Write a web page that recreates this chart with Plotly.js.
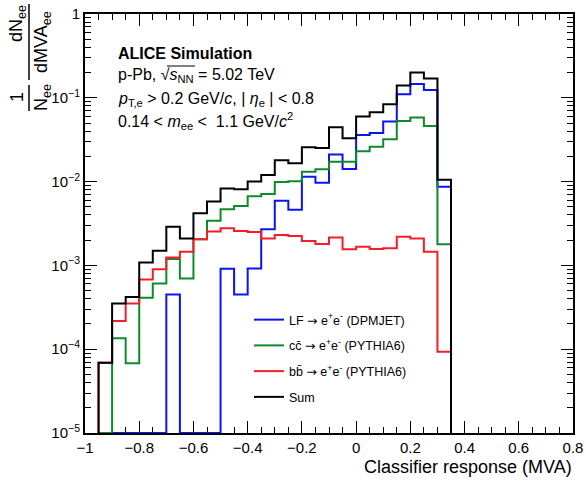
<!DOCTYPE html>
<html><head><meta charset="utf-8">
<script src="https://cdn.plot.ly/plotly-3.0.1.min.js"></script>
<style>html,body{margin:0;padding:0;background:#fff}#chart{width:586px;height:482px}</style>
</head><body><div id="chart"></div>
<script>
// Histogram bin lower edges (bin width 0.05)
const binLow = [-0.95,-0.9,-0.85,-0.8,-0.75,-0.7,-0.65,-0.6,-0.55,-0.5,-0.45,-0.4,-0.35,-0.3,-0.25,-0.2,-0.15,-0.1,-0.05,0,0.05,0.1,0.15,0.2,0.25,0.3];
const binWidth = 0.05;
// 1/N dN/dMVA per bin
const lfVals = [0,0,0,0,0,4.5e-4,0,0,0,9.1e-4,4.5e-4,9.2e-4,2.7e-3,5.9e-3,4.6e-3,0.0114,9.7e-3,0.0211,0.0141,0.036,0.038,0.052,0.110,0.146,0.124,0.0087];
const ccVals = [0,1.35e-4,6.8e-5,4.1e-4,6.1e-4,1.19e-3,7.0e-4,2.05e-3,3.4e-3,4.67e-3,5.1e-3,6.7e-3,7.1e-3,9.9e-3,0.0101,0.0131,0.014,0.0173,0.0173,0.0230,0.026,0.032,0.053,0.058,0.046,1.79e-3];
const bbVals = [6.9e-5,2.17e-4,3.5e-4,6.8e-4,9.0e-4,1.24e-3,1.46e-3,2.05e-3,2.53e-3,2.77e-3,2.58e-3,2.5e-3,2.1e-3,2.3e-3,2.25e-3,1.95e-3,1.8e-3,2.15e-3,1.56e-3,1.67e-3,1.57e-3,1.60e-3,2.2e-3,2.1e-3,1.46e-3,9.3e-5];
const sumVals = [6.9e-5,3.5e-4,4.2e-4,1.08e-3,1.5e-3,2.9e-3,2.1e-3,4.2e-3,5.8e-3,8.3e-3,8.1e-3,0.010,0.012,0.018,0.0165,0.0257,0.0252,0.0445,0.0328,0.060,0.067,0.084,0.14,0.20,0.17,0.0105];
const ARROW = '<span style="font-family:DejaVu Sans">\u2192</span>';
const seriesNames = ['LF '+ARROW+' e<sup>+</sup>e<sup>-</sup> (DPMJET)','cc\u0304 '+ARROW+' e<sup>+</sup>e<sup>-</sup> (PYTHIA6)','bb\u0304 '+ARROW+' e<sup>+</sup>e<sup>-</sup> (PYTHIA6)','Sum'];
const xTickVals = [-1,-0.8,-0.6,-0.4,-0.2,0,0.2,0.4,0.6,0.8];
const xTickText = ['\u22121','\u22120.8','\u22120.6','\u22120.4','\u22120.2','0','0.2','0.4','0.6','0.8'];
const yTickVals = [1e-5,1e-4,1e-3,1e-2,1e-1,1];
const yTickText = ['10<sup>\u22125</sup>','10<sup>\u22124</sup>','10<sup>\u22123</sup>','10<sup>\u22122</sup>','10<sup>\u22121</sup>','1'];

const FLOOR = 1e-5;
const FONT = 'Liberation Sans, Arial, Helvetica, sans-serif';
const colors = ['#0a14f5','#0f8a2a','#f51e28','#000000'];

function histTrace(vals, name, color, grp){
  const x=[binLow[0]], y=[FLOOR];
  for(let i=0;i<vals.length;i++){ x.push(binLow[i]); y.push(vals[i]>0?vals[i]:FLOOR); }
  x.push(binLow[binLow.length-1]+binWidth); y.push(FLOOR);
  return {type:'scatter', mode:'lines', x:x, y:y, name:name, legendgroup:grp,
    line:{shape:'hv', color:color, width:2}, hoverinfo:'skip'};
}
const data = [
  histTrace(lfVals, seriesNames[0], colors[0], 'a'),
  histTrace(ccVals, seriesNames[1], colors[1], 'b'),
  histTrace(bbVals, seriesNames[2], colors[2], 'c'),
  histTrace(sumVals, seriesNames[3], colors[3], 'd')
];

const L=85, R=13, T=14, B=49, W=586, H=482;
const PW=W-L-R, PH=H-T-B;
const px=(v)=>(v-L)/PW, py=(v)=>(H-B-v)/PH;

const yMinor=[]; for(let k=-5;k<0;k++){ for(let m=2;m<10;m++) yMinor.push(m*Math.pow(10,k)); }

function ann(text,x,y,opt){ return Object.assign({text:text, x:px(x), y:py(y), xref:'paper', yref:'paper', xanchor:'left', yanchor:'middle', showarrow:false, font:{family:FONT,size:16,color:'#000'}}, opt||{}); }

const annotations = [
  ann('<b>ALICE Simulation</b>',116,53),
  ann('p-Pb, \u221A<i>s</i><sub>NN</sub> = 5.02 TeV',116,76),
  ann('<i>p</i><sub>T,e</sub> > 0.2 GeV/<i>c</i>, | <i>\u03b7</i><sub>e</sub> | < 0.8',116,99),
  ann('0.14 < <i>m</i><sub>ee</sub> <  1.1 GeV/<i>c</i><sup>2</sup>',116,121),
  ann('Classifier response (MVA)',574,467,{xanchor:'right',font:{family:FONT,size:18,color:'#000'}}),
  ann('dN<sub>ee</sub>',17,24,{xanchor:'center',textangle:-90,font:{family:FONT,size:18,color:'#000'}}),
  ann('dMVA<sub>ee</sub>',42,42,{xanchor:'center',textangle:-90,font:{family:FONT,size:18,color:'#000'}}),
  ann('1',17,97,{xanchor:'center',textangle:-90,font:{family:FONT,size:18,color:'#000'}}),
  ann('N<sub>ee</sub>',42,98,{xanchor:'center',textangle:-90,font:{family:FONT,size:18,color:'#000'}})
];
const shapes = [
  {type:'line', xref:'paper', yref:'paper', x0:px(29), x1:px(29), y0:py(4), y1:py(80), line:{color:'#000',width:1.5}},
  {type:'line', xref:'paper', yref:'paper', x0:px(29), x1:px(29), y0:py(85), y1:py(111), line:{color:'#000',width:1.5}},
  {type:'line', xref:'paper', yref:'paper', x0:px(167), x1:px(195), y0:py(66), y1:py(66), line:{color:'#000',width:1}}
];

const axisCommon = {showline:true, linewidth:2, linecolor:'#000', mirror:'allticks', ticks:'inside', ticklen:12, tickwidth:1, tickcolor:'#000', showgrid:false, zeroline:false, tickfont:{family:FONT,size:15,color:'#000'}};

const layout = {
  width:W, height:H, margin:{l:L,r:R,t:T,b:B,pad:0},
  paper_bgcolor:'#fff', plot_bgcolor:'#fff', font:{family:FONT,color:'#000'},
  showlegend:true,
  legend:{x:px(249), y:py(305), xanchor:'left', yanchor:'top', bgcolor:'rgba(0,0,0,0)', borderwidth:0, font:{family:FONT,size:12.5,color:'#000'}, tracegroupgap:6.5, itemwidth:30},
  xaxis:Object.assign({}, axisCommon, {range:[-1,0.8], tickmode:'array', tickvals:xTickVals, ticktext:xTickText, layer:'below traces',
    minor:{tickmode:'array', tickvals:binLow.concat([-1,0.35,0.4,0.45,0.5,0.55,0.6,0.65,0.7,0.75,0.8]), ticks:'inside', ticklen:6, tickwidth:1, tickcolor:'#000'}}),
  yaxis:Object.assign({}, axisCommon, {type:'log', range:[-5,0], tickmode:'array', tickvals:yTickVals, ticktext:yTickText,
    minor:{tickmode:'array', tickvals:yMinor, ticks:'inside', ticklen:6, tickwidth:1, tickcolor:'#000'}}),
  annotations:annotations, shapes:shapes
};
Plotly.newPlot('chart', data, layout, {staticPlot:true, displayModeBar:false});
</script></body></html>
